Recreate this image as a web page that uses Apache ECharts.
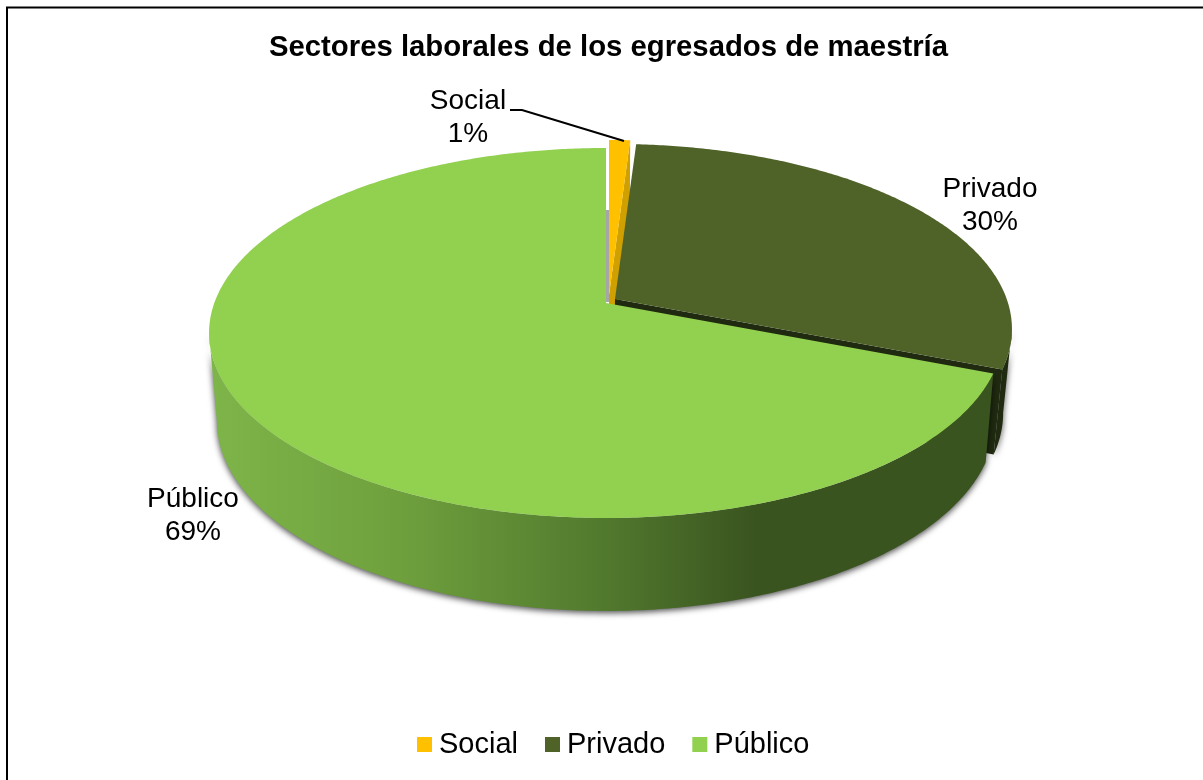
<!DOCTYPE html>
<html>
<head>
<meta charset="utf-8">
<style>html,body{margin:0;padding:0;background:#fff}#chart{width:1203px;height:780px}</style>
<script src="https://cdn.jsdelivr.net/npm/echarts@6/dist/echarts.min.js"></script>
</head>
<body>
<div id="chart"></div>
<script>
const categories = ['Social', 'Privado', 'Público'];
const percentages = [1, 30, 69];
const sliceColors = ['#FFC000', '#4F6228', '#92D050'];
const cutFaceColors = ['#D0A000', '#1F2A10', '#A6A6A6'];

// Tilted-disc projection: a homography from the unit circle onto the screen.
const TOP = { cx: 606, cy: 333, a: 391.7, b: 185, c: -30, p: -0.162 };
const BOTTOM = { cx: 606, cy: 420, a: 384, b: 190, c: -30, p: -0.162 };
const EXPLODE_TOP = [[3, -8], [9, -4], [0, 0]];
const EXPLODE_BOTTOM = [[3, -8], [8, -8], [0, 0]];
const LABEL_POS = [[468, 118], [990, 206], [193, 516]];

function project(d, angle, off) {
  const u = Math.sin(angle), v = -Math.cos(angle);
  const w = 1 + d.p * v;
  return [d.cx + off[0] + d.a * u / w, d.cy + off[1] + (d.b * v + d.c) / w];
}
function apex(d, off) { return [d.cx + off[0], d.cy + off[1] + d.c]; }
function arc(d, a0, a1, off) {
  const pts = [], n = Math.max(2, Math.ceil((a1 - a0) / 0.01));
  for (let i = 0; i <= n; i++) pts.push(project(d, a0 + (a1 - a0) * i / n, off));
  return pts;
}
function poly(points, style) {
  return { type: 'polygon', shape: { points }, style, silent: true };
}

const total = percentages.reduce((s, x) => s + x, 0);
const starts = percentages.map((_, i) =>
  percentages.slice(0, i).reduce((s, x) => s + x, 0) / total * Math.PI * 2);

const wallGradient = new echarts.graphic.LinearGradient(210, 0, 990, 0, [
  { offset: 0, color: '#7EB549' },
  { offset: 0.25, color: '#6E9F3D' },
  { offset: 0.5, color: '#527A2E' },
  { offset: 0.7, color: '#3A5420' },
  { offset: 1, color: '#3A5420' }
], true);

const wallShadow = { shadowBlur: 6, shadowColor: 'rgba(0,0,0,0.7)', shadowOffsetY: 2 };
// Angle past the horizontal at which the rim reaches its widest screen point.
const SILHOUETTE = 0.163;

function renderSlice(i) {
  return function (params, api) {
    const value = api.value(0);
    const a0 = starts[i], a1 = a0 + value / total * Math.PI * 2;
    const offT = EXPLODE_TOP[i], offB = EXPLODE_BOTTOM[i];
    const children = [];

    if (i === 2) {
      // Público: front wall with its shaded band, then the sliver of the far cut.
      const wallEnd = Math.PI * 1.5 - SILHOUETTE;
      children.push(poly(
        arc(TOP, a0, wallEnd, offT).concat(arc(BOTTOM, a0, wallEnd, offB).reverse()),
        Object.assign({ fill: wallGradient }, wallShadow)));
      children.push({ type: 'rect', shape: { x: 606, y: 210, width: 3, height: 92 },
        style: { fill: cutFaceColors[2] }, silent: true });
    } else {
      if (i === 1) {
        // Privado: only the part of the outer wall that faces the viewer.
        const wallStart = Math.PI / 2 + SILHOUETTE;
        children.push(poly(
          arc(TOP, wallStart, a1, offT).concat(arc(BOTTOM, wallStart, a1, offB).reverse()),
          Object.assign({ fill: cutFaceColors[1] }, wallShadow)));
      }
      // Exploded slices show the cut on their clockwise edge.
      children.push(poly(
        [apex(TOP, offT), project(TOP, a1, offT), project(BOTTOM, a1, offB), apex(BOTTOM, offB)],
        { fill: cutFaceColors[i] }));
    }
    children.push(poly(
      [apex(TOP, offT)].concat(arc(TOP, a0, a1, offT)),
      { fill: sliceColors[i] }));

    children.push({
      type: 'text', silent: true, z2: 10,
      style: {
        x: LABEL_POS[i][0], y: LABEL_POS[i][1],
        text: categories[i] + '\n' + value + '%',
        font: '28px "Liberation Sans", Arial, sans-serif',
        lineHeight: 33, fill: '#000', align: 'center', verticalAlign: 'middle'
      }
    });
    if (i === 0) {
      // Leader line from the label to the slice's rim.
      children.push({
        type: 'polyline', silent: true, z2: 10,
        shape: { points: [[510, 110], [522, 110], [624, 141]] },
        style: { stroke: '#000', lineWidth: 2, fill: null }
      });
    }
    return { type: 'group', children };
  };
}

const chart = echarts.init(document.getElementById('chart'), null, { renderer: 'canvas' });
chart.setOption({
  animation: false,
  backgroundColor: '#fff',
  title: {
    text: 'Sectores laborales de los egresados de maestría',
    left: 603.5, top: 28, textAlign: 'center',
    textStyle: { fontFamily: '"Liberation Sans", Arial, sans-serif', fontWeight: 'bold', fontSize: 29.3, color: '#000' }
  },
  legend: {
    left: 412, top: 725, icon: 'rect', itemWidth: 15, itemHeight: 15, itemGap: 27,
    selectedMode: false,
    textStyle: { fontFamily: '"Liberation Sans", Arial, sans-serif', fontSize: 29, color: '#000', padding: [0, 0, 0, 2] },
    data: categories
  },
  graphic: [{
    type: 'polyline', silent: true,
    shape: { points: [[7, 780], [7, 7.5], [1203, 7.5]] },
    style: { stroke: '#000', lineWidth: 2, fill: null }
  }],
  series: categories.map((name, i) => ({
    type: 'custom',
    name,
    coordinateSystem: 'none',
    itemStyle: { color: sliceColors[i] },
    renderItem: renderSlice(i),
    data: [[percentages[i]]]
  }))
});
</script>
</body>
</html>
